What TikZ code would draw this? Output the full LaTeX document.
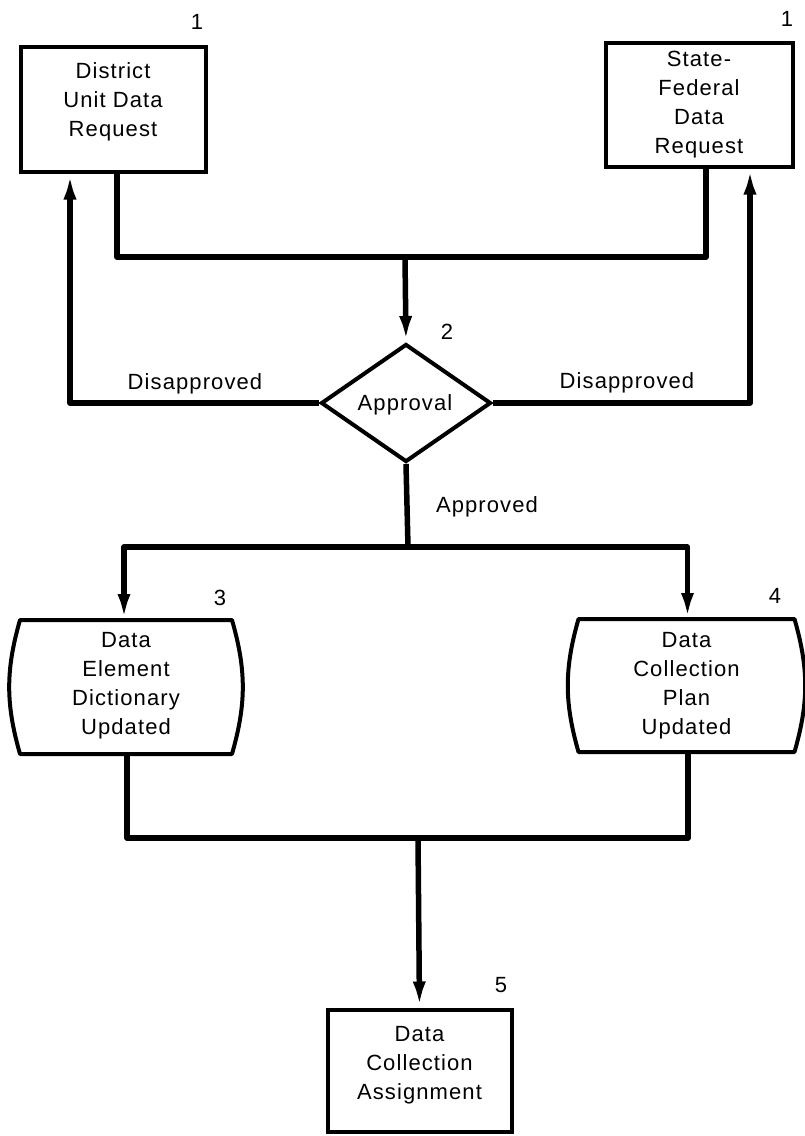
\documentclass[tikz,border=0pt]{standalone}
\usepackage{fontspec}
\setmainfont[LetterSpace=5]{Liberation Sans}
\usetikzlibrary{arrows.meta,shapes.geometric}
\begin{document}
\begin{tikzpicture}[x=1pt,y=-1pt,
  every node/.style={font=\fontsize{22}{29}\selectfont},
  box/.style={draw, line width=4pt, rectangle, inner sep=0pt},
  barrelbase/.style={rectangle, inner sep=0pt, outer sep=2pt},
  shapeline/.style={line width=4pt, line join=round},
  dia/.style={draw, diamond, line width=4pt, inner sep=0pt, minimum width=170pt, minimum height=118pt},
  conn/.style={line width=5.5pt, line join=round},
  arr/.style={conn, -{Latex[length=26pt,width=13pt]}},
  txt/.style={align=center, inner sep=0pt},
  num/.style={inner sep=0pt}]
\useasboundingbox (0,0) rectangle (805,1136);

% boxes
\node[box, minimum width=185pt, minimum height=125pt] (dist) at (113,109) {};
\node[txt] (distt) at (113,102) {District\\Unit Data\\Request};
\node[box, minimum width=187pt, minimum height=124pt] (sf) at (699,104.5) {};
\node[txt] (sft) at (699,104.5) {State-\\Federal\\Data\\Request};
\node[dia] (ap) at (406,403) {};
\node[txt] (apt) at (405,405) {Approval};
\node[barrelbase, minimum width=208pt, minimum height=130pt] (b3) at (126,687) {};
\node[txt] (b3t) at (126,686) {Data\\Element\\Dictionary\\Updated};
\node[barrelbase, minimum width=212pt, minimum height=129pt] (b4) at (686.5,685.5) {};
\node[txt] (b4t) at (686.5,686) {Data\\Collection\\Plan\\Updated};
\node[box, minimum width=184pt, minimum height=122pt] (dca) at (419.5,1070.5) {};
\node[txt] (dcat) at (419.5,1065) {Data\\Collection\\Assignment};

% barrel outlines
\draw[shapeline] (b3.north west) -- (b3.north east) to[bend left=16] (b3.south east)
  -- (b3.south west) to[bend left=16] (b3.north west) -- cycle;
\draw[shapeline] (b4.north west) -- (b4.north east) to[bend left=16] (b4.south east)
  -- (b4.south west) to[bend left=16] (b4.north west) -- cycle;

% numbers
\node[num] (n1a) at (197,22) {1};
\node[num] (n1b) at (787,19) {1};
\node[num] (n2) at (447,332) {2};
\node[num] (n3) at (220,598) {3};
\node[num] (n4) at (775,596) {4};
\node[num] (n5) at (501,985) {5};

% labels
\node[txt] (dl) at (195,384) {Disapproved};
\node[txt] (dr) at (627,383) {Disapproved};
\node[txt] (apd) at (487,507) {Approved};

% junctions
\coordinate (j1) at (405,257);
\coordinate (j2) at (408,547);
\coordinate (j3) at (418,838);

% connectors
\draw[conn] ([xshift=4pt]dist.south) |- (j1);
\draw[conn] ([xshift=7pt]sf.south) |- (j1);
\draw[arr] (j1) -- (ap.north);
\draw[arr] (ap.west) -| ([xshift=-43pt]dist.south);
\draw[arr] (ap.east) -| ([xshift=51pt]sf.south);
\draw[conn] (ap.south) -- (j2);
\draw[arr] (j2) -| ([xshift=-2pt]b3.north);
\draw[arr] (j2) -| ([xshift=1pt]b4.north);
\draw[conn] ([xshift=1pt]b3.south) |- (j3);
\draw[conn] ([xshift=1.5pt]b4.south) |- (j3);
\draw[arr] (j3) -- (dca.north);
\end{tikzpicture}
\end{document}
